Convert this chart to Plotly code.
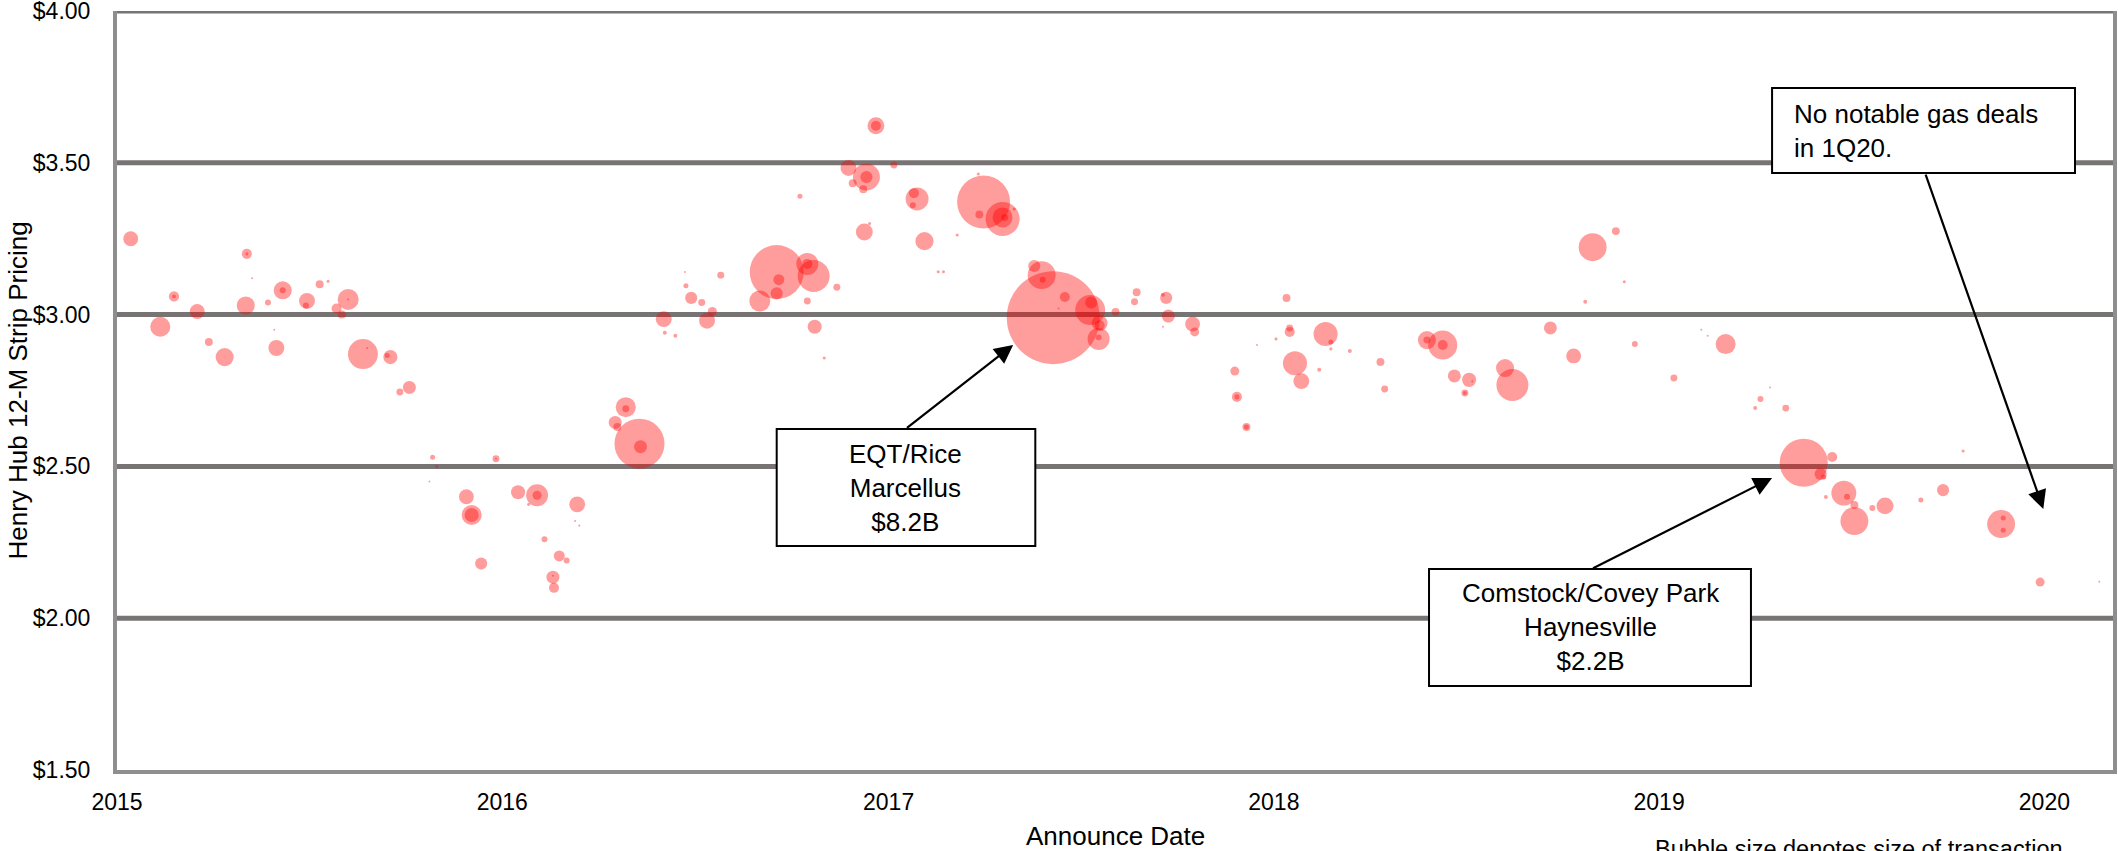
import plotly.graph_objects as go

# Gas M&A deals: announce date, Henry Hub 12-month strip at announcement ($/MMBtu),
# and transaction size ($B, drives bubble area)
deal_dates = [
    "2015-01-14", "2015-02-11", "2015-02-24", "2015-02-24", "2015-03-18", "2015-03-29",
    "2015-04-13", "2015-05-03", "2015-05-04", "2015-05-04", "2015-05-09", "2015-05-24",
    "2015-06-01", "2015-05-30", "2015-06-07", "2015-06-07", "2015-06-30", "2015-06-29",
    "2015-07-12", "2015-07-20", "2015-07-28", "2015-08-02", "2015-08-08", "2015-08-08",
    "2015-08-22", "2015-08-26", "2015-09-17", "2015-09-14", "2015-09-26", "2015-10-05",
    "2015-10-27", "2015-10-31", "2015-10-24", "2015-11-28", "2015-12-03", "2015-12-03",
    "2015-12-12", "2015-12-26", "2015-12-26",
    "2016-01-16", "2016-02-03", "2016-02-03", "2016-01-26", "2016-02-10", "2016-02-18",
    "2016-02-18", "2016-02-19", "2016-02-24", "2016-03-02", "2016-03-12", "2016-03-10",
    "2016-03-14", "2016-04-17", "2016-04-19", "2016-04-27", "2016-04-27", "2016-05-10",
    "2016-05-11", "2016-06-02", "2016-06-03", "2016-06-13", "2016-06-23", "2016-06-28",
    "2016-06-22", "2016-07-08", "2016-07-18", "2016-07-13", "2016-07-26", "2016-09-01",
    "2016-09-17", "2016-09-19", "2016-09-17", "2016-10-16", "2016-10-16", "2016-10-22",
    "2016-11-13", "2016-10-16", "2016-10-23", "2016-11-01", "2016-10-09", "2016-11-24",
    "2016-12-11", "2016-12-11", "2016-11-28", "2016-12-08", "2016-12-20", "2016-12-20",
    "2017-01-06", "2016-12-09", "2016-12-14",
    "2017-01-28", "2017-01-25", "2017-01-24", "2017-02-04", "2017-03-07", "2017-02-17",
    "2017-02-22", "2017-04-01", "2017-03-28", "2017-03-27", "2017-04-19", "2017-04-19",
    "2017-04-21", "2017-04-30", "2017-06-06", "2017-05-26", "2017-05-19", "2017-05-27",
    "2017-06-17", "2017-06-11", "2017-07-11", "2017-07-12", "2017-07-20", "2017-07-20",
    "2017-07-19", "2017-07-19", "2017-08-04", "2017-08-24", "2017-08-22", "2017-09-21",
    "2017-09-18", "2017-09-23", "2017-09-18", "2017-10-16", "2017-10-18", "2017-11-25",
    "2017-11-27", "2017-11-27", "2017-12-06", "2017-12-06", "2017-12-16",
    "2018-01-03", "2018-01-13", "2018-01-16", "2018-01-16", "2018-01-21", "2018-01-27",
    "2018-02-19", "2018-02-24", "2018-02-24", "2018-03-14", "2018-02-13", "2018-04-12",
    "2018-04-16", "2018-05-26", "2018-05-26", "2018-06-10", "2018-06-10", "2018-06-21",
    "2018-07-05", "2018-07-08", "2018-07-01", "2018-07-01", "2018-08-08", "2018-08-15",
    "2018-09-20", "2018-10-12", "2018-10-23", "2018-10-30", "2018-11-21", "2018-11-29",
    "2018-12-09",
    "2019-01-15", "2019-02-10", "2019-02-16", "2019-03-05", "2019-04-02", "2019-04-07",
    "2019-04-16", "2019-05-01", "2019-05-18", "2019-06-14", "2019-06-03", "2019-06-06",
    "2019-06-08", "2019-06-25", "2019-06-28", "2019-07-05", "2019-07-05", "2019-07-22",
    "2019-08-03", "2019-09-06", "2019-09-27", "2019-10-16", "2019-11-21", "2019-11-23",
    "2019-11-23", "2019-12-28", "2020-02-22",
]

strip_prices = [
    3.25, 2.96, 3.06, 3.06, 3.01, 2.91,
    2.86, 3.03, 3.20, 3.20, 3.12, 3.04,
    2.89, 2.95, 3.08, 3.08, 3.045, 3.03,
    3.10, 3.11, 3.02, 3.00, 3.05, 3.05,
    2.87, 2.89, 2.86, 2.865, 2.745, 2.76,
    2.53, 2.50, 2.45, 2.40, 2.34, 2.34,
    2.18, 2.525, 2.525,
    2.415, 2.405, 2.405, 2.375, 2.26, 2.135,
    2.14, 2.10, 2.205, 2.19, 2.375, 2.32,
    2.305, 2.645, 2.63, 2.695, 2.69, 2.575,
    2.565, 2.985, 2.94, 2.93, 3.095, 3.055,
    3.14, 3.04, 3.01, 2.98, 3.13, 3.045,
    3.14, 3.115, 3.07, 3.167, 3.167, 3.127,
    3.09, 3.045, 2.96, 2.857, 3.39, 3.483,
    3.453, 3.453, 3.433, 3.413, 3.622, 3.622,
    3.493, 3.272, 3.30,
    3.381, 3.40, 3.36, 3.242, 3.262, 3.141,
    3.141, 3.371, 3.33, 3.463, 3.315, 3.32,
    3.32, 3.348, 2.99, 3.13, 3.16, 3.115,
    3.058, 3.02, 3.015, 3.04, 2.972, 2.965,
    2.92, 2.925, 3.009, 3.074, 3.042, 3.055,
    3.065, 2.995, 2.96, 2.969, 2.943, 2.814,
    2.729, 2.729, 2.63, 2.63, 2.90,
    2.92, 3.055, 2.943, 2.956, 2.84, 2.781,
    2.936, 2.91, 2.887, 2.88, 2.818, 2.844,
    2.755, 2.916, 2.916, 2.90, 2.90, 2.798,
    2.785, 2.78, 2.742, 2.742, 2.824, 2.768,
    2.956, 2.864, 3.042, 3.222, 3.275, 3.108,
    2.903,
    2.791, 2.95, 2.93, 2.903, 2.692, 2.722,
    2.76, 2.692, 2.512, 2.531, 2.475, 2.465,
    2.399, 2.412, 2.40, 2.373, 2.32, 2.363,
    2.37, 2.389, 2.422, 2.551, 2.31, 2.33,
    2.29, 2.119, 2.12,
]

deal_values_bn = [
    0.21, 0.38, 0.10, 0.015, 0.21, 0.06,
    0.31, 0.31, 0.095, 0.009, 0.002, 0.034,
    0.24, 0.001, 0.31, 0.034, 0.24, 0.034,
    0.06, 0.009, 0.095, 0.06, 0.42, 0.002,
    0.85, 0.002, 0.19, 0.024, 0.046, 0.16,
    0.024, 0.009, 0.001, 0.21, 0.38, 0.19,
    0.14, 0.046, 0.004,
    0.19, 0.46, 0.077, 0.009, 0.034, 0.16,
    0.002, 0.095, 0.115, 0.034, 0.24, 0.004,
    0.004, 0.16, 0.06, 0.38, 0.046, 2.37,
    0.16, 0.24, 0.015, 0.015, 0.024, 0.14,
    0.001, 0.046, 0.077, 0.24, 0.046, 0.42,
    2.76, 0.115, 0.14, 0.46, 0.095, 0.97,
    0.046, 0.046, 0.19, 0.009, 0.024, 0.24,
    0.69, 0.14, 0.06, 0.06, 0.27, 0.095,
    0.046, 0.27, 0.009,
    0.50, 0.095, 0.034, 0.31, 0.009, 0.009,
    0.009, 2.66, 0.06, 0.009, 1.10, 0.38,
    0.046, 0.009, 8.2, 0.74, 0.14, 0.034,
    0.095, 0.002, 0.85, 0.14, 0.24, 0.095,
    0.46, 0.034, 0.06, 0.06, 0.046, 0.14,
    0.015, 0.16, 0.002, 0.21, 0.077, 0.077,
    0.095, 0.024, 0.06, 0.024, 0.001,
    0.009, 0.06, 0.095, 0.046, 0.55, 0.24,
    0.55, 0.024, 0.009, 0.015, 0.015, 0.06,
    0.046, 0.31, 0.046, 0.80, 0.095, 0.16,
    0.19, 0.004, 0.046, 0.015, 0.31, 0.97,
    0.16, 0.21, 0.015, 0.74, 0.06, 0.009,
    0.034,
    0.046, 0.001, 0.001, 0.38, 0.015, 0.034,
    0.001, 0.046, 2.2, 0.095, 0.14, 0.024,
    0.015, 0.59, 0.034, 0.06, 0.74, 0.034,
    0.27, 0.024, 0.14, 0.009, 0.74, 0.024,
    0.024, 0.077, 0.001,
]

year_ticks = ["2015-01-01", "2016-01-01", "2017-01-01", "2018-01-01", "2019-01-01", "2020-01-01"]
year_labels = ["2015", "2016", "2017", "2018", "2019", "2020"]
price_ticks = [1.5, 2.0, 2.5, 3.0, 3.5, 4.0]
price_labels = ["$1.50", "$2.00", "$2.50", "$3.00", "$3.50", "$4.00"]
gridline_prices = [2.0, 2.5, 3.0, 3.5, 4.0]

FONT = "Liberation Sans, Arial, sans-serif"
GRID = "#787474"
AXIS = "#8e8e8e"
MAX_BUBBLE_PX = 93

fig = go.Figure(
    go.Scatter(
        x=deal_dates,
        y=strip_prices,
        mode="markers",
        marker=dict(
            size=deal_values_bn,
            sizemode="area",
            sizeref=2 * max(deal_values_bn) / MAX_BUBBLE_PX ** 2,
            sizemin=1,
            color="rgba(255,0,0,0.55)",
            line=dict(width=0),
        ),
        hoverinfo="skip",
        showlegend=False,
    )
)

# horizontal price gridlines, drawn under the bubbles
for p in gridline_prices:
    fig.add_shape(type="line", xref="paper", x0=0, x1=1, yref="y", y0=p, y1=p,
                  line=dict(color=GRID, width=5), layer="below")

# callout boxes: (x0, x1, y0, y1) in date / price space
callouts = [
    dict(box=("2016-09-17", "2017-05-20", 2.238, 2.623),
         text="EQT/Rice<br>Marcellus<br>$8.2B", tx="2017-01-17", ty=2.43, anchor="center",
         tail=("2017-01-17", 2.623), tip=("2017-04-29", 2.90)),
    dict(box=("2018-05-28", "2019-03-29", 1.777, 2.162),
         text="Comstock/Covey Park<br>Haynesville<br>$2.2B", tx="2018-10-28", ty=1.97, anchor="center",
         tail=("2018-10-29", 2.162), tip=("2019-04-18", 2.462)),
    dict(box=("2019-04-18", "2020-01-30", 3.466, 3.746),
         text="No notable gas deals<br>in 1Q20.", tx="2019-05-07", ty=3.606, anchor="left",
         tail=("2019-09-10", 3.466), tip=("2019-12-31", 2.36)),
]

for c in callouts:
    x0, x1, y0, y1 = c["box"]
    fig.add_shape(type="rect", xref="x", yref="y", x0=x0, x1=x1, y0=y0, y1=y1,
                  line=dict(color="black", width=2), fillcolor="white", layer="above")
    fig.add_annotation(x=c["tx"], y=c["ty"], xref="x", yref="y", text=c["text"],
                       showarrow=False, xanchor=c["anchor"], yanchor="middle",
                       align=c["anchor"], font=dict(family=FONT, size=26, color="black"))
    fig.add_annotation(x=c["tip"][0], y=c["tip"][1], xref="x", yref="y",
                       ax=c["tail"][0], ay=c["tail"][1], axref="x", ayref="y",
                       text="", showarrow=True, arrowhead=2, arrowsize=1.7,
                       arrowwidth=2.2, arrowcolor="black", standoff=0, startstandoff=0)

# axis titles and footnote
fig.add_annotation(xref="paper", yref="paper", x=0, y=0.5, xshift=-100,
                   text="Henry Hub 12-M Strip Pricing", textangle=-90, showarrow=False,
                   xanchor="center", yanchor="middle",
                   font=dict(family=FONT, size=26, color="black"))
fig.add_annotation(xref="paper", yref="paper", x=0.5, y=0, yshift=-66,
                   text="Announce Date", showarrow=False, xanchor="center", yanchor="middle",
                   font=dict(family=FONT, size=26, color="black"))
fig.add_annotation(xref="paper", yref="paper", x=0.7695, y=0, yshift=-79,
                   text="Bubble size denotes size of transaction", showarrow=False,
                   xanchor="left", yanchor="middle",
                   font=dict(family=FONT, size=23.5, color="black"))

fig.update_layout(
    width=2118,
    height=851,
    margin=dict(l=117, r=5, t=11, b=81, autoexpand=False),
    paper_bgcolor="white",
    plot_bgcolor="white",
    font=dict(family=FONT, color="black"),
    xaxis=dict(
        type="date",
        range=["2015-01-01", "2020-03-06"],
        tickmode="array",
        tickvals=year_ticks,
        ticktext=year_labels,
        showgrid=False,
        zeroline=False,
        showline=True,
        linecolor=AXIS,
        linewidth=4,
        ticks="outside",
        ticklen=8,
        tickcolor="rgba(0,0,0,0)",
        automargin=False,
        tickfont=dict(family=FONT, size=23, color="black"),
    ),
    yaxis=dict(
        range=[1.5, 4.0],
        tickmode="array",
        tickvals=price_ticks,
        ticktext=price_labels,
        showgrid=False,
        zeroline=False,
        showline=True,
        mirror=True,
        linecolor=AXIS,
        linewidth=4,
        ticks="outside",
        ticklen=18,
        tickcolor="rgba(0,0,0,0)",
        ticklabeloverflow="allow",
        automargin=False,
        tickfont=dict(family=FONT, size=23, color="black"),
    ),
)

fig.write_html("out.html")
